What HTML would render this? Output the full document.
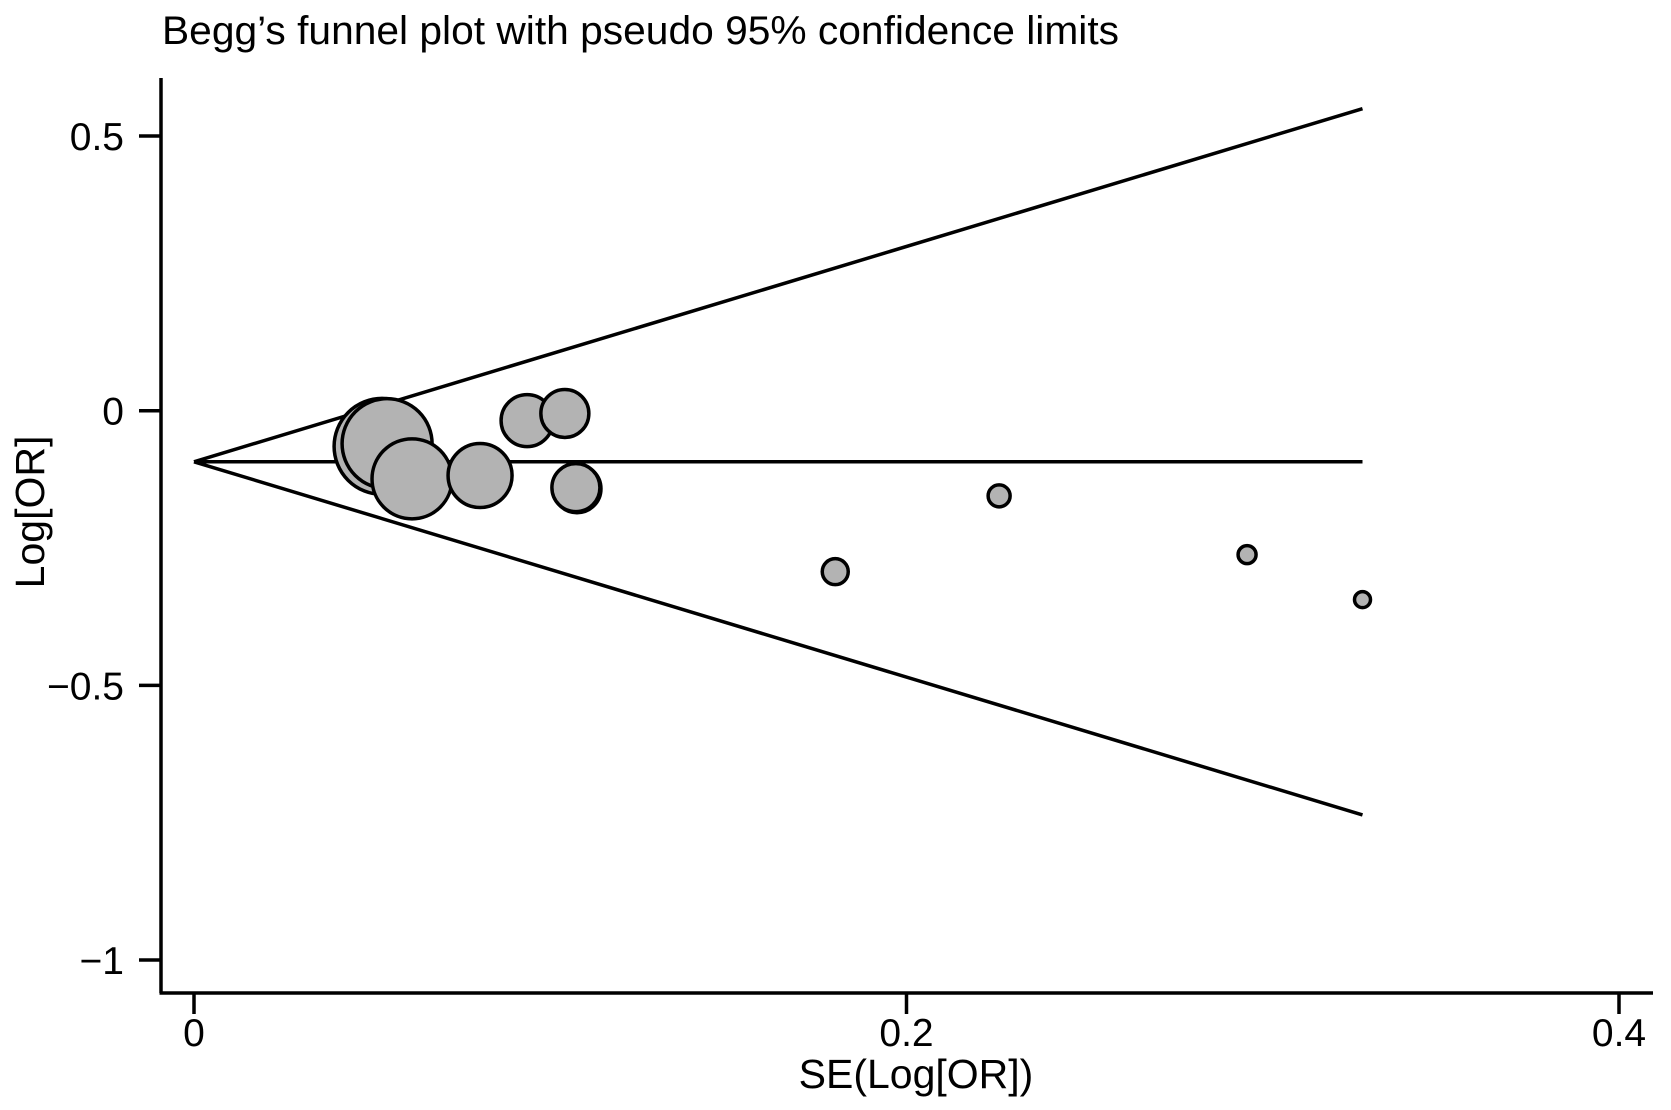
<!DOCTYPE html>
<html><head><meta charset="utf-8"><style>
html,body{margin:0;padding:0;background:#fff}
svg{display:block}
text{font-family:"Liberation Sans",Arial,sans-serif;fill:#000}
</style></head><body>
<svg id="chart" width="1671" height="1110" viewBox="0 0 1671 1110" xmlns="http://www.w3.org/2000/svg">
<text x="162" y="44" font-size="40" textLength="957" lengthAdjust="spacingAndGlyphs">Begg’s funnel plot with pseudo 95% confidence limits</text>
<g id="axes"></g>
<g id="funnel"></g>
<g id="points"></g>
</svg>
<script>
const seValues = [0.0528, 0.0542, 0.0612, 0.0803, 0.0935, 0.1041, 0.1075, 0.1072, 0.180, 0.226, 0.2956, 0.328];
const logOrValues = [-0.065, -0.060, -0.124, -0.118, -0.018, -0.005, -0.142, -0.140, -0.293, -0.155, -0.262, -0.344];
const weights = [48, 45, 40, 32, 26, 24, 24, 24, 13, 11, 9, 8];
const pooledEstimate = -0.093;
const maxSe = 0.328;
const xTicks = [0, 0.2, 0.4];
const xTickLabels = ["0", "0.2", "0.4"];
const yTicks = [0.5, 0, -0.5, -1];
const yTickLabels = ["0.5", "0", "\u22120.5", "\u22121"];

const NS = "http://www.w3.org/2000/svg";
const sx = v => 194 + v * 3562.5;
const sy = v => 410.7 - v * 549.3;
function mk(tag, attrs, parent){const e=document.createElementNS(NS,tag);for(const k in attrs)e.setAttribute(k,attrs[k]);parent.appendChild(e);return e;}
const axes=document.getElementById('axes'), funnel=document.getElementById('funnel'), pts=document.getElementById('points');

let e;
e=mk('line',{x1:161,y1:78,x2:161,y2:993,stroke:'#000','stroke-width':3.5},axes);


e=mk('line',{x1:159.5,y1:993,x2:1653,y2:993,stroke:'#000','stroke-width':3.5},axes);


xTicks.forEach((t,i)=>{
  e=mk('line',{x1:sx(t),y1:993,x2:sx(t),y2:1014,stroke:'#000','stroke-width':3.5},axes);
  
  
  e=mk('text',{x:sx(t),y:1046,'font-size':39,'text-anchor':'middle'},axes);
  e.textContent=xTickLabels[i];
  
  
});
yTicks.forEach((t,i)=>{
  e=mk('line',{x1:139,y1:sy(t),x2:161,y2:sy(t),stroke:'#000','stroke-width':3.5},axes);
  
  
  e=mk('text',{x:124,y:sy(t)+14,'font-size':39,'text-anchor':'end'},axes);
  e.textContent=yTickLabels[i];
  
  
});
e=mk('text',{x:916,y:1088,'font-size':41,'text-anchor':'middle'},axes);
e.textContent='SE(Log[OR])';


e=mk('text',{x:0,y:0,'font-size':41,'text-anchor':'middle',transform:'translate(44,512) rotate(-90)'},axes);
e.textContent='Log[OR]';



e=mk('line',{x1:sx(0),y1:sy(pooledEstimate),x2:sx(maxSe),y2:sy(pooledEstimate),stroke:'#000','stroke-width':3.5},funnel);


e=mk('line',{x1:sx(0),y1:sy(pooledEstimate),x2:sx(maxSe),y2:sy(pooledEstimate+1.96*maxSe),stroke:'#000','stroke-width':3.5},funnel);


e=mk('line',{x1:sx(0),y1:sy(pooledEstimate),x2:sx(maxSe),y2:sy(pooledEstimate-1.96*maxSe),stroke:'#000','stroke-width':3.5},funnel);



seValues.forEach((s,i)=>{
  e=mk('circle',{cx:sx(s),cy:sy(logOrValues[i]),r:weights[i],fill:'#b3b3b3',stroke:'#000','stroke-width':3.5},pts);
  
  
});
</script>
</body></html>
